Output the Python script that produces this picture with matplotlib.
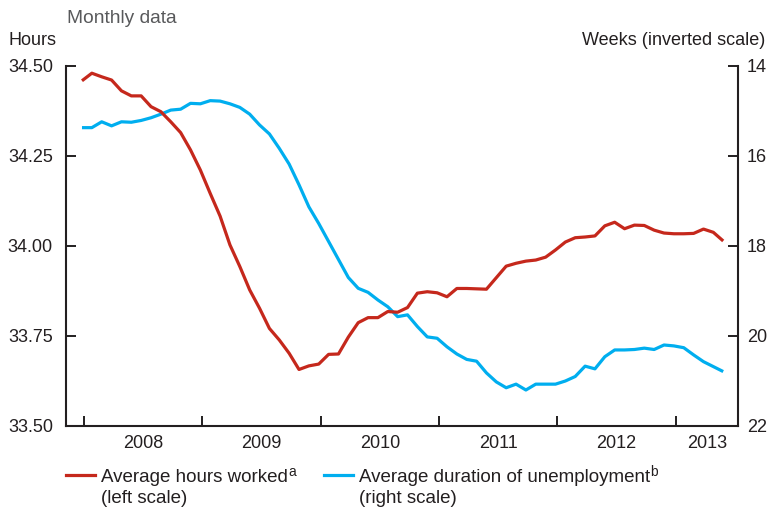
import matplotlib
matplotlib.use('Agg')
import matplotlib.pyplot as plt
from matplotlib.lines import Line2D
import numpy as np

plt.rcParams['font.family'] = ['Liberation Sans', 'DejaVu Sans']

# ---- data (monthly, Dec 2007 - May 2013) ----
hours_worked = [34.459, 34.480, 34.470, 34.461, 34.431, 34.417, 34.417, 34.387, 34.373, 34.345, 34.315, 34.267, 34.211,
                34.146, 34.083, 34.003, 33.943, 33.878, 33.827, 33.771, 33.739, 33.702, 33.657, 33.667, 33.672, 33.699,
                33.700, 33.747, 33.787, 33.801, 33.801, 33.818, 33.816, 33.829, 33.869, 33.873, 33.870, 33.859, 33.882,
                33.882, 33.881, 33.880, 33.912, 33.944, 33.952, 33.958, 33.961, 33.969, 33.989, 34.011, 34.023, 34.025,
                34.028, 34.056, 34.066, 34.048, 34.058, 34.057, 34.044, 34.036, 34.034, 34.034, 34.035, 34.047, 34.038, 34.014]
duration_weeks = [15.37, 15.37, 15.24, 15.33, 15.24, 15.25, 15.21, 15.15, 15.07, 14.98, 14.96, 14.83, 14.84,
                  14.77, 14.78, 14.84, 14.92, 15.07, 15.31, 15.51, 15.83, 16.18, 16.64, 17.13, 17.50, 17.90,
                  18.30, 18.70, 18.94, 19.03, 19.20, 19.35, 19.57, 19.53, 19.79, 20.02, 20.05, 20.24, 20.40,
                  20.52, 20.56, 20.82, 21.02, 21.15, 21.07, 21.20, 21.07, 21.07, 21.07, 21.00, 20.90, 20.67,
                  20.73, 20.46, 20.31, 20.31, 20.30, 20.27, 20.30, 20.20, 20.22, 20.26, 20.42, 20.57, 20.68, 20.79]
years = ['2008', '2009', '2010', '2011', '2012', '2013']
left_ticks = [33.50, 33.75, 34.00, 34.25, 34.50]
right_ticks = [14, 16, 18, 20, 22]

RED = '#C5281C'
BLUE = '#00AEEF'
INK = '#231F20'
GRAY = '#58595B'

W, H = 767, 508
fig = plt.figure(figsize=(W / 100, H / 100), dpi=100)
def fx(px): return px / W
def fy(py): return 1 - py / H

ax = fig.add_axes([fx(66), fy(426), fx(738) - fx(66), fy(66) - fy(426)])
ax2 = ax.twinx()
ax.set_zorder(ax2.get_zorder() + 1)
ax.patch.set_visible(False)

x = np.arange(len(hours_worked))
ax2.plot(x, duration_weeks, color=BLUE, lw=2.3, solid_capstyle='butt')
ax.plot(x, hours_worked, color=RED, lw=2.3, solid_capstyle='butt')

xmin, xmax = -1.62, 66.5
ax.set_xlim(xmin, xmax)
ax.set_ylim(33.5, 34.5)
ax2.set_ylim(22, 14)

# year boundary ticks and centred labels
tick_pos = [0.2 + 12 * k for k in range(len(years))]
bounds = tick_pos + [xmax]
label_pos = [(bounds[i] + bounds[i + 1]) / 2 for i in range(len(years))]
ax.set_xticks(tick_pos)
ax.set_xticklabels([])
ax.set_xticks(label_pos, minor=True)
ax.set_xticklabels(years, minor=True)
ax.tick_params(axis='x', which='major', direction='in', length=7.2, width=1.4, color=INK)
ax.tick_params(axis='x', which='minor', length=0, pad=6.5, labelsize=13, labelcolor=INK)

ax.set_yticks(left_ticks)
ax.set_yticklabels([f'{v:.2f}' for v in left_ticks])
ax.tick_params(axis='y', direction='in', length=7.2, width=1.4, pad=9.4, labelsize=13, color=INK, labelcolor=INK)
ax2.set_yticks(right_ticks)
ax2.set_yticklabels([str(v) for v in right_ticks])
ax2.tick_params(axis='y', direction='in', length=7.2, width=1.4, pad=6.5, labelsize=13, color=INK, labelcolor=INK)

for s in ['top', 'right']:
    ax.spines[s].set_visible(False)
for s in ['top', 'left', 'bottom']:
    ax2.spines[s].set_visible(False)
for a in (ax, ax2):
    for s in a.spines.values():
        s.set_linewidth(1.5)
        s.set_color(INK)

# header texts
fig.text(fx(67), fy(23), 'Monthly data', color=GRAY, fontsize=13.8, va='baseline', ha='left')
fig.text(fx(8), fy(45), 'Hours', color=INK, fontsize=13, va='baseline', ha='left')
fig.text(fx(765), fy(45), 'Weeks (inverted scale)', color=INK, fontsize=13, va='baseline', ha='right')

# legend
fig.add_artist(Line2D([fx(66), fx(95)], [fy(475), fy(475)], color=RED, lw=2.3, transform=fig.transFigure))
fig.add_artist(Line2D([fx(324), fx(353)], [fy(475), fy(475)], color=BLUE, lw=2.3, transform=fig.transFigure))
t1 = fig.text(fx(101), fy(481.7), 'Average hours worked', color=INK, fontsize=13.5, va='baseline')
fig.text(fx(101), fy(503), '(left scale)', color=INK, fontsize=13.5, va='baseline')
t2 = fig.text(fx(359), fy(481.7), 'Average duration of unemployment', color=INK, fontsize=13.5, va='baseline')
fig.text(fx(359), fy(503), '(right scale)', color=INK, fontsize=13.5, va='baseline')

fig.canvas.draw()
renderer = fig.canvas.get_renderer()
for t, sup in ((t1, 'a'), (t2, 'b')):
    bb = t.get_window_extent(renderer)
    fig.text((bb.x1 + 0.5) / W, fy(475.5), sup, color=INK, fontsize=10, va='baseline', ha='left')

fig.savefig('out.png', dpi=100)
